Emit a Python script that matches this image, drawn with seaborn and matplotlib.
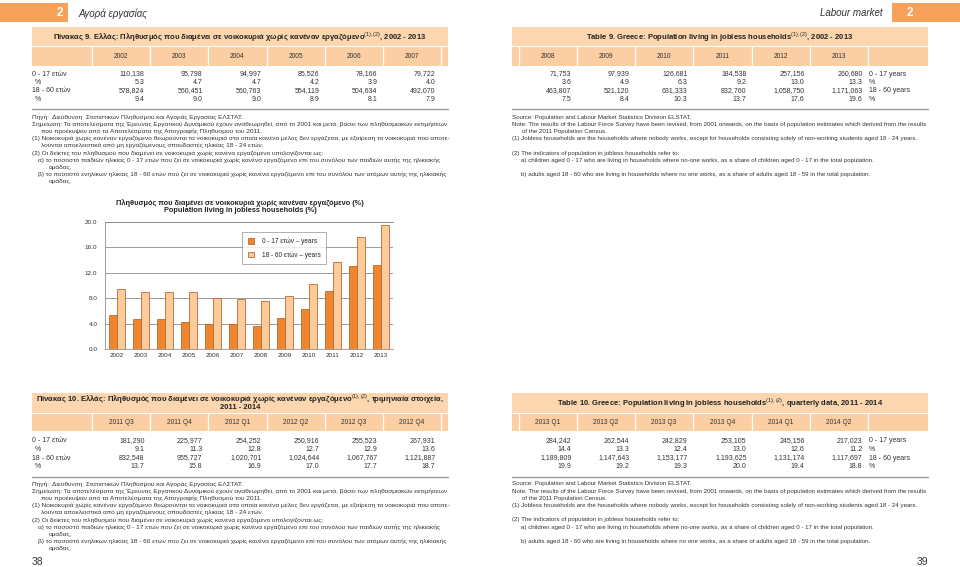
import numpy as np
import pandas as pd
import matplotlib
matplotlib.use("Agg")
import matplotlib.pyplot as plt
from matplotlib.patches import Rectangle
from matplotlib.ticker import FixedLocator
import seaborn as sns

sns.set_style("white")
plt.rcParams['font.family'] = ['Liberation Sans', 'DejaVu Sans']
plt.rcParams['mathtext.fontset'] = 'custom'
plt.rcParams['mathtext.rm'] = 'Liberation Sans'
plt.rcParams['mathtext.bf'] = 'Liberation Sans:bold'

# ---- data: table 9 (annual) ----
years = ["2002", "2003", "2004", "2005", "2006", "2007",
         "2008", "2009", "2010", "2011", "2012", "2013"]
kids_n = ["110,138", "95,798", "94,997", "85,526", "78,166", "79,722",
          "71,753", "97,939", "126,681", "184,538", "257,156", "260,680"]
kids_pct = [5.3, 4.7, 4.7, 4.2, 3.9, 4.0, 3.6, 4.9, 6.3, 9.2, 13.0, 13.3]
adults_n = ["578,824", "560,451", "560,763", "554,119", "504,634", "492,070",
            "463,807", "521,120", "631,333", "832,760", "1,058,750", "1,171,063"]
adults_pct = [9.4, 9.0, 9.0, 8.9, 8.1, 7.9, 7.5, 8.4, 10.3, 13.7, 17.6, 19.6]

# ---- data: table 10 (quarterly) ----
quarters = ["2011 Q3", "2011 Q4", "2012 Q1", "2012 Q2", "2012 Q3", "2012 Q4",
            "2013 Q1", "2013 Q2", "2013 Q3", "2013 Q4", "2014 Q1", "2014 Q2"]
q_kids_n = ["181,290", "225,977", "254,252", "250,916", "255,523", "267,931",
            "284,242", "262,544", "242,829", "253,105", "245,156", "217,023"]
q_kids_pct = [9.1, 11.3, 12.8, 12.7, 12.9, 13.6, 14.4, 13.3, 12.4, 13.0, 12.6, 11.2]
q_adults_n = ["832,548", "955,727", "1,020,701", "1,024,644", "1,067,767", "1,121,887",
              "1,189,809", "1,147,643", "1,153,177", "1,193,625", "1,131,174", "1,117,697"]
q_adults_pct = [13.7, 15.8, 16.9, 17.0, 17.7, 18.7, 19.9, 19.2, 19.3, 20.0, 19.4, 18.8]

series_labels = ["0 - 17 ετών – years", "18 - 60 ετών – years"]

notes_gr = [
    (32, "Πηγή:  Διεύθυνση  Στατιστικών Πληθυσμού και Αγοράς Εργασίας ΕΛΣΤΑΤ."),
    (32, "Σημείωση: Τα αποτελέσματα της Έρευνας Εργατικού Δυναμικού έχουν αναθεωρηθεί, από το 2001 και μετά, βάσει των πληθυσμιακών εκτιμήσεων"),
    (41, "που προέκυψαν από τα Αποτελέσματα της Απογραφής Πληθυσμού του 2011."),
    (32, "(1) Νοικοκυριά χωρίς κανέναν εργαζόμενο θεωρούνται τα νοικοκυριά στα οποία κανένα μέλος δεν εργάζεται, με εξαίρεση τα νοικοκυριά που αποτε-"),
    (41, "λούνται αποκλειστικά από μη εργαζόμενους σπουδαστές ηλικίας 18 - 24 ετών."),
    (32, "(2) Οι δείκτες του πληθυσμού που διαμένει σε νοικοκυριά χωρίς κανένα εργαζόμενο υπολογίζονται ως:"),
    (38, "α) το ποσοστό παιδιών ηλικίας 0 - 17 ετών που ζει σε νοικοκυριά χωρίς κανένα εργαζόμενο επί του συνόλου των παιδιών αυτής της ηλικιακής"),
    (49, "ομάδας,"),
    (38, "β) το ποσοστό ενηλίκων ηλικίας 18 - 60 ετών που ζει σε νοικοκυριά χωρίς κανένα εργαζόμενο επί του συνόλου των ατόμων αυτής της ηλικιακής"),
    (49, "ομάδας."),
]
notes_en = [
    (512, 0, "Source: Population and Labour Market Statistics Division ELSTAT."),
    (512, 1, "Note: The results of the Labour Force Survey have been revised, from 2001 onwards, on the basis of population estimates which derived from the results"),
    (522, 2, "of the 2011 Population Census."),
    (512, 3, "(1) Jobless households are the households where nobody works, except for households consisting solely of non-working students aged 18 - 24 years."),
    (512, 5, "(2) The indicators of population in jobless households refer to:"),
    (521, 6, "a) children aged 0 - 17 who are living in households where no-one works, as a share of children aged 0 - 17 in the total population."),
    (521, 8, "b) adults aged 18 - 60 who are living in households where no one works, as a share of adults aged 18 - 59 in the total population."),
]

BAND = "#fcd6ae"
BAND2 = "#fbcfa3"
ORANGE = "#f7a15a"
TXT = "#333333"

fig = plt.figure(figsize=(9.6, 5.67), dpi=100)
bg = fig.add_axes([0, 0, 1, 1], zorder=0)
bg.set_xlim(0, 960)
bg.set_ylim(567, 0)
bg.axis("off")

# page headers
bg.add_patch(Rectangle((0, 3), 68, 19, color=ORANGE, lw=0))
bg.text(60, 12.5, "2", color="white", fontsize=8.5, fontweight="bold", ha="center", va="center")
bg.text(78, 13.5, "Αγορά εργασίας", fontsize=7, style="italic", color=TXT, va="center")
bg.add_patch(Rectangle((892, 3), 68, 19, color=ORANGE, lw=0))
bg.text(910, 12.5, "2", color="white", fontsize=8.5, fontweight="bold", ha="center", va="center")
bg.text(883, 13.5, "Labour market", fontsize=7, style="italic", color=TXT, va="center", ha="right")

left_bounds = [32, 92, 150, 208, 267, 325, 383, 441, 448]
right_bounds = [512, 519, 577, 635, 693, 752, 810, 868, 928]


def table(top, mid, bottom, heads, r1, r2, r3, r4, title_l, title_r, title_y_l, rows_y, rule_y):
    for x0, x1 in [(32, 448), (512, 928)]:
        bg.add_patch(Rectangle((x0, top), x1 - x0, mid - top, color=BAND, lw=0))
        bg.add_patch(Rectangle((x0, mid), x1 - x0, bottom - mid, color=BAND2, lw=0))
        bg.plot([x0, x1], [mid, mid], color="white", lw=0.8)
        bg.plot([x0, x1], [rule_y, rule_y], color="#9a9a9a", lw=1)
    for bounds, off in [(left_bounds, 0), (right_bounds, 6)]:
        for b in bounds[1:-1]:
            bg.plot([b, b], [mid, bottom], color="white", lw=0.9)
        for i in range(6):
            xc = (bounds[i + 1] + bounds[i + 2]) / 2
            bg.text(xc, (mid + bottom) / 2, heads[off + i], fontsize=4.8, ha="center", va="center", color=TXT)
            xr = bounds[i + 2] - 5.5
            for y, vals in zip(rows_y, [r1, r2, r3, r4]):
                v = vals[off + i]
                s = v if isinstance(v, str) else f"{v:.1f}"
                bg.text(xr, y, s, fontsize=5, ha="right", va="center", color=TXT)
    for y, lab, x in zip(rows_y, ["0 - 17 ετών", "%", "18 - 60 ετών", "%"], [32, 35, 32, 35]):
        bg.text(x, y, lab, fontsize=5, va="center", color=TXT)
    for y, lab in zip(rows_y, ["0 - 17 years", "%", "18 - 60 years", "%"]):
        bg.text(869, y, lab, fontsize=5, va="center", color=TXT)
    for i, line in enumerate(title_l):
        bg.text(240, title_y_l[i], line, fontsize=5.5, fontweight="bold", ha="center", va="center", color="#222222")
    bg.text(720, (top + mid) / 2, title_r, fontsize=5.5, fontweight="bold", ha="center", va="center", color="#222222")


table(27, 46, 66, years, kids_n, kids_pct, adults_n, adults_pct,
      ["Πίνακας 9. Ελλάς: Πληθυσμός που διαμένει σε νοικοκυριά χωρίς κανέναν εργαζόμενο$^{(1),(2)}$, 2002 - 2013"],
      "Table 9. Greece: Population living in jobless households$^{(1),(2)}$, 2002 - 2013",
      [36.5], [74, 82.5, 91, 99.5], 109)

table(393, 413, 431, quarters, q_kids_n, q_kids_pct, q_adults_n, q_adults_pct,
      ["Πίνακας 10. Ελλάς: Πληθυσμός που διαμένει σε νοικοκυριά χωρίς κανέναν εργαζόμενο$^{(1),(2)}$, τριμηνιαία στοιχεία,",
       "2011 - 2014"],
      "Table 10. Greece: Population living in jobless households$^{(1),(2)}$, quarterly data, 2011 - 2014",
      [398.5, 407.5], [441, 449.5, 458, 466.5], 477)

# notes
for base_y in [117, 484]:
    for i, (x, line) in enumerate(notes_gr):
        bg.text(x, base_y + i * 7.2, line, fontsize=4.68, va="center", color=TXT)
    for x, i, line in notes_en:
        bg.text(x, base_y + i * 7.2, line, fontsize=4.46, va="center", color=TXT)

bg.text(32, 562, "38", fontsize=7.5, va="center", color=TXT)
bg.text(928, 562, "39", fontsize=7.5, va="center", ha="right", color=TXT)

# chart title
bg.text(240, 203, "Πληθυσμός που διαμένει σε νοικοκυριά χωρίς κανέναν εργαζόμενο (%)",
        fontsize=5.3, fontweight="bold", ha="center", va="center", color="#222222")
bg.text(240, 211, "Population living in jobless households (%)",
        fontsize=5.3, fontweight="bold", ha="center", va="center", color="#222222")

# bar chart
df = pd.DataFrame({
    "year": years * 2,
    "pct": kids_pct + adults_pct,
    "group": [series_labels[0]] * len(years) + [series_labels[1]] * len(years),
})
ax = fig.add_axes([105 / 960, (567 - 349) / 567, 288 / 960, 127 / 567], zorder=2)
ax.set_facecolor("none")
sns.barplot(data=df, x="year", y="pct", hue="group", ax=ax,
            palette=["#ee8630", "#fccb9c"], width=0.68, gap=0,
            edgecolor="#b9692c", linewidth=0.6, saturation=1)
ax.set_ylim(0, 20)
ax.set_xlim(-0.5, 11.5)
ax.set_yticks(np.arange(0, 20.1, 4))
ax.set_yticklabels([f"{v:.1f}" for v in np.arange(0, 20.1, 4)])
ax.yaxis.grid(True, color="#8c8c8c", lw=0.6)
ax.set_axisbelow(True)
ax.set_xlabel("")
ax.set_ylabel("")
ax.spines["right"].set_visible(False)
for s in ["left", "bottom", "top"]:
    ax.spines[s].set_color("#8c8c8c")
    ax.spines[s].set_linewidth(0.6)
ax.tick_params(axis="both", labelsize=4.6, colors=TXT, length=0, pad=3)
ax.tick_params(axis="y", length=2.5, color="#8c8c8c", width=0.6, direction="out")
ax.xaxis.set_minor_locator(FixedLocator(np.arange(-0.5, 12, 1)))
ax.tick_params(axis="x", which="minor", length=2.5, color="#8c8c8c", width=0.6, direction="out")
leg = ax.legend(loc="upper left", bbox_to_anchor=((242 - 105) / 288, (349 - 232) / 127),
                fontsize=4.7, frameon=True, fancybox=False, edgecolor="#8c8c8c",
                handlelength=1.0, handleheight=1.0, borderpad=0.85, labelspacing=0.95,
                handletextpad=1.2, borderaxespad=0)
leg.get_frame().set_linewidth(0.6)

fig.savefig("out.png", dpi=100)
